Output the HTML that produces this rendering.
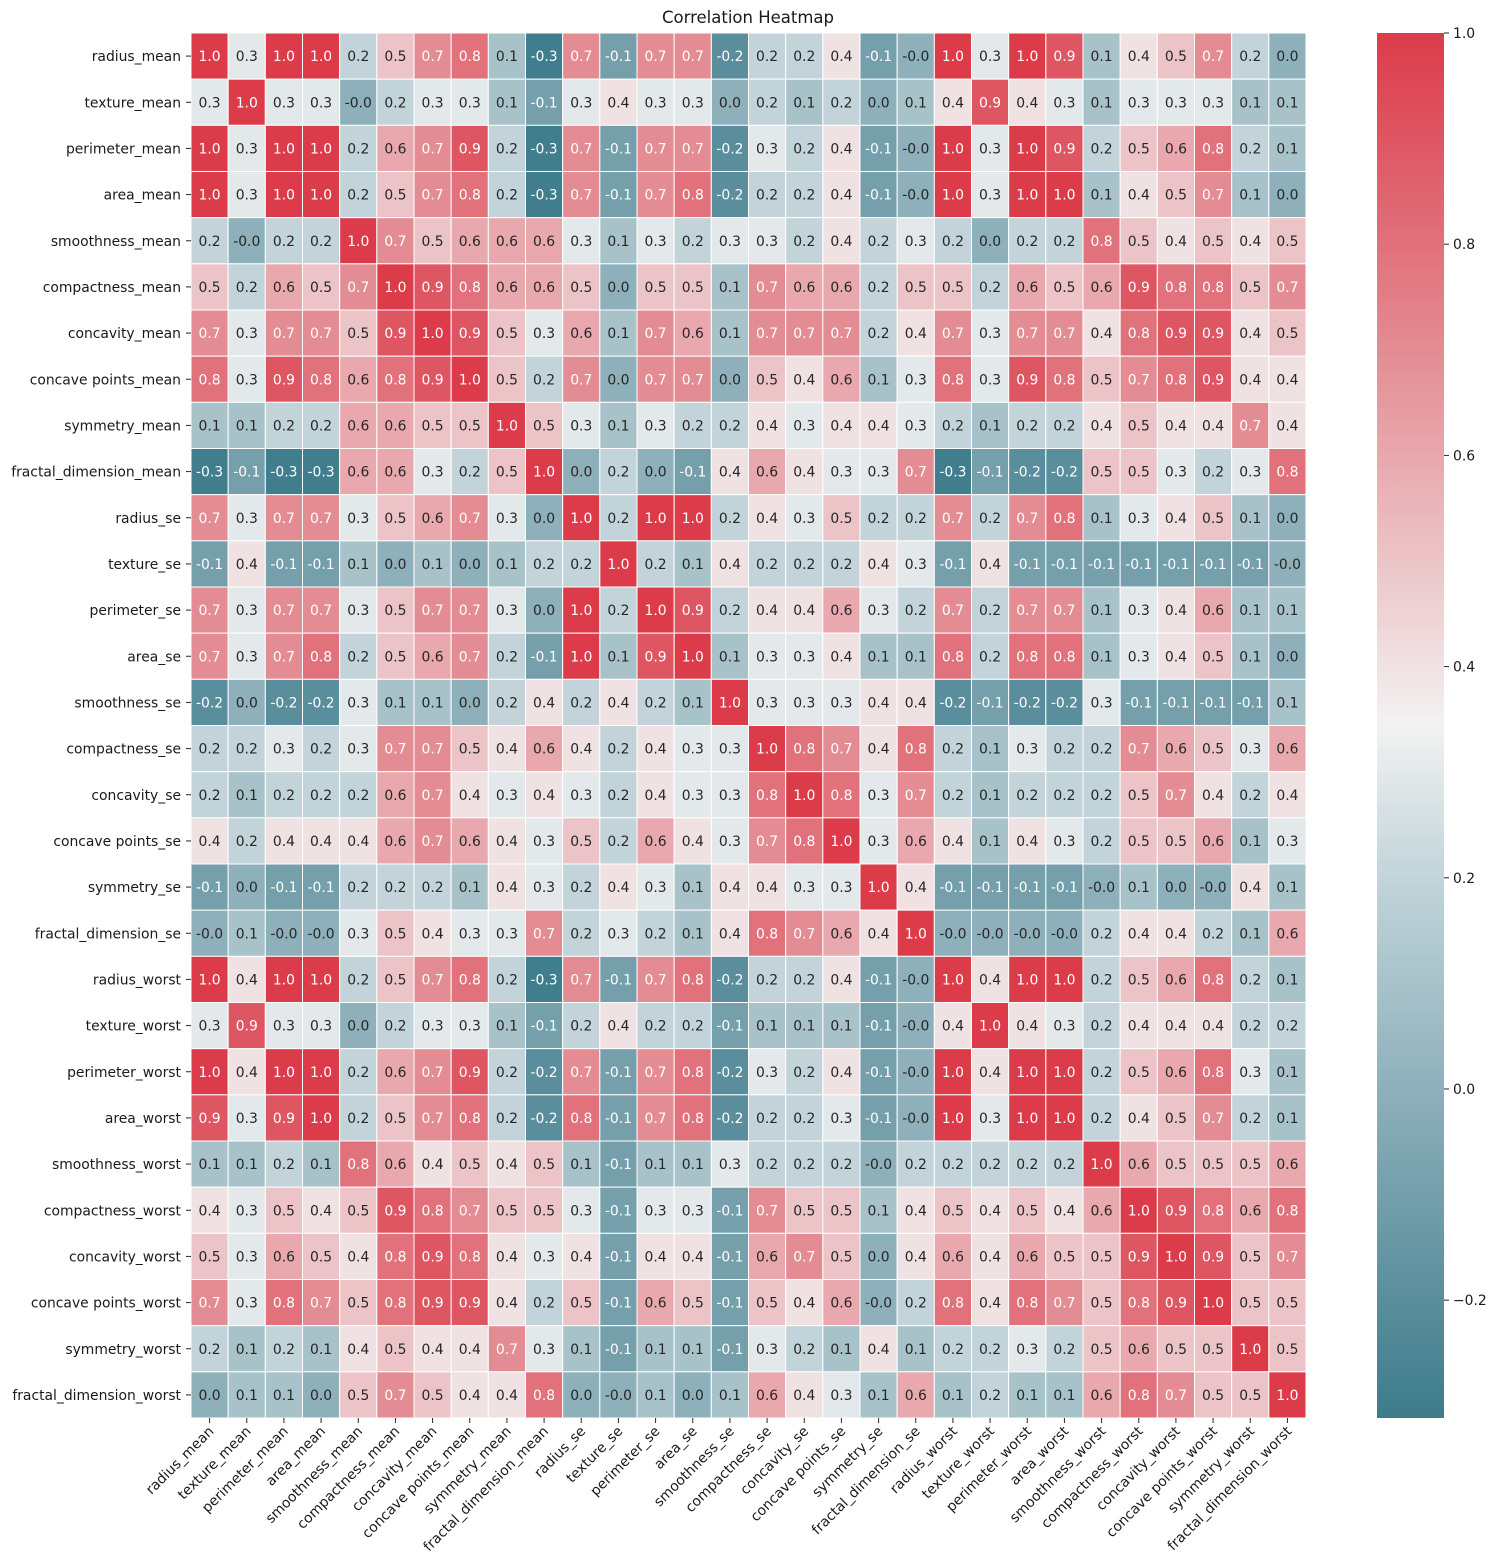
<!DOCTYPE html>
<html><head><meta charset="utf-8">
<style>
html,body{margin:0;padding:0;background:#fff;}
svg{display:block;font-family:"DejaVu Sans","Liberation Sans",sans-serif;}
</style></head>
<body>
<svg id="chart" width="1498" height="1568" viewBox="0 0 1498 1568" xmlns="http://www.w3.org/2000/svg">
<text x="748" y="23" text-anchor="middle" font-size="16.5" fill="#1a1a1a">Correlation Heatmap</text>
<defs>
<linearGradient id="cbgrad" x1="0" y1="1" x2="0" y2="0"></linearGradient>
</defs>
<g id="cells"></g>
<g id="ylabels"></g>
<g id="xlabels"></g>
<g id="colorbar"></g>
</svg>
<script>
const features = ["radius_mean","texture_mean","perimeter_mean","area_mean","smoothness_mean","compactness_mean","concavity_mean","concave points_mean","symmetry_mean","fractal_dimension_mean","radius_se","texture_se","perimeter_se","area_se","smoothness_se","compactness_se","concavity_se","concave points_se","symmetry_se","fractal_dimension_se","radius_worst","texture_worst","perimeter_worst","area_worst","smoothness_worst","compactness_worst","concavity_worst","concave points_worst","symmetry_worst","fractal_dimension_worst"];
const corrRows = [
"1.0 0.3 1.0 1.0 0.2 0.5 0.7 0.8 0.1 -0.3 0.7 -0.1 0.7 0.7 -0.2 0.2 0.2 0.4 -0.1 -0.0 1.0 0.3 1.0 0.9 0.1 0.4 0.5 0.7 0.2 0.0",
"0.3 1.0 0.3 0.3 -0.0 0.2 0.3 0.3 0.1 -0.1 0.3 0.4 0.3 0.3 0.0 0.2 0.1 0.2 0.0 0.1 0.4 0.9 0.4 0.3 0.1 0.3 0.3 0.3 0.1 0.1",
"1.0 0.3 1.0 1.0 0.2 0.6 0.7 0.9 0.2 -0.3 0.7 -0.1 0.7 0.7 -0.2 0.3 0.2 0.4 -0.1 -0.0 1.0 0.3 1.0 0.9 0.2 0.5 0.6 0.8 0.2 0.1",
"1.0 0.3 1.0 1.0 0.2 0.5 0.7 0.8 0.2 -0.3 0.7 -0.1 0.7 0.8 -0.2 0.2 0.2 0.4 -0.1 -0.0 1.0 0.3 1.0 1.0 0.1 0.4 0.5 0.7 0.1 0.0",
"0.2 -0.0 0.2 0.2 1.0 0.7 0.5 0.6 0.6 0.6 0.3 0.1 0.3 0.2 0.3 0.3 0.2 0.4 0.2 0.3 0.2 0.0 0.2 0.2 0.8 0.5 0.4 0.5 0.4 0.5",
"0.5 0.2 0.6 0.5 0.7 1.0 0.9 0.8 0.6 0.6 0.5 0.0 0.5 0.5 0.1 0.7 0.6 0.6 0.2 0.5 0.5 0.2 0.6 0.5 0.6 0.9 0.8 0.8 0.5 0.7",
"0.7 0.3 0.7 0.7 0.5 0.9 1.0 0.9 0.5 0.3 0.6 0.1 0.7 0.6 0.1 0.7 0.7 0.7 0.2 0.4 0.7 0.3 0.7 0.7 0.4 0.8 0.9 0.9 0.4 0.5",
"0.8 0.3 0.9 0.8 0.6 0.8 0.9 1.0 0.5 0.2 0.7 0.0 0.7 0.7 0.0 0.5 0.4 0.6 0.1 0.3 0.8 0.3 0.9 0.8 0.5 0.7 0.8 0.9 0.4 0.4",
"0.1 0.1 0.2 0.2 0.6 0.6 0.5 0.5 1.0 0.5 0.3 0.1 0.3 0.2 0.2 0.4 0.3 0.4 0.4 0.3 0.2 0.1 0.2 0.2 0.4 0.5 0.4 0.4 0.7 0.4",
"-0.3 -0.1 -0.3 -0.3 0.6 0.6 0.3 0.2 0.5 1.0 0.0 0.2 0.0 -0.1 0.4 0.6 0.4 0.3 0.3 0.7 -0.3 -0.1 -0.2 -0.2 0.5 0.5 0.3 0.2 0.3 0.8",
"0.7 0.3 0.7 0.7 0.3 0.5 0.6 0.7 0.3 0.0 1.0 0.2 1.0 1.0 0.2 0.4 0.3 0.5 0.2 0.2 0.7 0.2 0.7 0.8 0.1 0.3 0.4 0.5 0.1 0.0",
"-0.1 0.4 -0.1 -0.1 0.1 0.0 0.1 0.0 0.1 0.2 0.2 1.0 0.2 0.1 0.4 0.2 0.2 0.2 0.4 0.3 -0.1 0.4 -0.1 -0.1 -0.1 -0.1 -0.1 -0.1 -0.1 -0.0",
"0.7 0.3 0.7 0.7 0.3 0.5 0.7 0.7 0.3 0.0 1.0 0.2 1.0 0.9 0.2 0.4 0.4 0.6 0.3 0.2 0.7 0.2 0.7 0.7 0.1 0.3 0.4 0.6 0.1 0.1",
"0.7 0.3 0.7 0.8 0.2 0.5 0.6 0.7 0.2 -0.1 1.0 0.1 0.9 1.0 0.1 0.3 0.3 0.4 0.1 0.1 0.8 0.2 0.8 0.8 0.1 0.3 0.4 0.5 0.1 0.0",
"-0.2 0.0 -0.2 -0.2 0.3 0.1 0.1 0.0 0.2 0.4 0.2 0.4 0.2 0.1 1.0 0.3 0.3 0.3 0.4 0.4 -0.2 -0.1 -0.2 -0.2 0.3 -0.1 -0.1 -0.1 -0.1 0.1",
"0.2 0.2 0.3 0.2 0.3 0.7 0.7 0.5 0.4 0.6 0.4 0.2 0.4 0.3 0.3 1.0 0.8 0.7 0.4 0.8 0.2 0.1 0.3 0.2 0.2 0.7 0.6 0.5 0.3 0.6",
"0.2 0.1 0.2 0.2 0.2 0.6 0.7 0.4 0.3 0.4 0.3 0.2 0.4 0.3 0.3 0.8 1.0 0.8 0.3 0.7 0.2 0.1 0.2 0.2 0.2 0.5 0.7 0.4 0.2 0.4",
"0.4 0.2 0.4 0.4 0.4 0.6 0.7 0.6 0.4 0.3 0.5 0.2 0.6 0.4 0.3 0.7 0.8 1.0 0.3 0.6 0.4 0.1 0.4 0.3 0.2 0.5 0.5 0.6 0.1 0.3",
"-0.1 0.0 -0.1 -0.1 0.2 0.2 0.2 0.1 0.4 0.3 0.2 0.4 0.3 0.1 0.4 0.4 0.3 0.3 1.0 0.4 -0.1 -0.1 -0.1 -0.1 -0.0 0.1 0.0 -0.0 0.4 0.1",
"-0.0 0.1 -0.0 -0.0 0.3 0.5 0.4 0.3 0.3 0.7 0.2 0.3 0.2 0.1 0.4 0.8 0.7 0.6 0.4 1.0 -0.0 -0.0 -0.0 -0.0 0.2 0.4 0.4 0.2 0.1 0.6",
"1.0 0.4 1.0 1.0 0.2 0.5 0.7 0.8 0.2 -0.3 0.7 -0.1 0.7 0.8 -0.2 0.2 0.2 0.4 -0.1 -0.0 1.0 0.4 1.0 1.0 0.2 0.5 0.6 0.8 0.2 0.1",
"0.3 0.9 0.3 0.3 0.0 0.2 0.3 0.3 0.1 -0.1 0.2 0.4 0.2 0.2 -0.1 0.1 0.1 0.1 -0.1 -0.0 0.4 1.0 0.4 0.3 0.2 0.4 0.4 0.4 0.2 0.2",
"1.0 0.4 1.0 1.0 0.2 0.6 0.7 0.9 0.2 -0.2 0.7 -0.1 0.7 0.8 -0.2 0.3 0.2 0.4 -0.1 -0.0 1.0 0.4 1.0 1.0 0.2 0.5 0.6 0.8 0.3 0.1",
"0.9 0.3 0.9 1.0 0.2 0.5 0.7 0.8 0.2 -0.2 0.8 -0.1 0.7 0.8 -0.2 0.2 0.2 0.3 -0.1 -0.0 1.0 0.3 1.0 1.0 0.2 0.4 0.5 0.7 0.2 0.1",
"0.1 0.1 0.2 0.1 0.8 0.6 0.4 0.5 0.4 0.5 0.1 -0.1 0.1 0.1 0.3 0.2 0.2 0.2 -0.0 0.2 0.2 0.2 0.2 0.2 1.0 0.6 0.5 0.5 0.5 0.6",
"0.4 0.3 0.5 0.4 0.5 0.9 0.8 0.7 0.5 0.5 0.3 -0.1 0.3 0.3 -0.1 0.7 0.5 0.5 0.1 0.4 0.5 0.4 0.5 0.4 0.6 1.0 0.9 0.8 0.6 0.8",
"0.5 0.3 0.6 0.5 0.4 0.8 0.9 0.8 0.4 0.3 0.4 -0.1 0.4 0.4 -0.1 0.6 0.7 0.5 0.0 0.4 0.6 0.4 0.6 0.5 0.5 0.9 1.0 0.9 0.5 0.7",
"0.7 0.3 0.8 0.7 0.5 0.8 0.9 0.9 0.4 0.2 0.5 -0.1 0.6 0.5 -0.1 0.5 0.4 0.6 -0.0 0.2 0.8 0.4 0.8 0.7 0.5 0.8 0.9 1.0 0.5 0.5",
"0.2 0.1 0.2 0.1 0.4 0.5 0.4 0.4 0.7 0.3 0.1 -0.1 0.1 0.1 -0.1 0.3 0.2 0.1 0.4 0.1 0.2 0.2 0.3 0.2 0.5 0.6 0.5 0.5 1.0 0.5",
"0.0 0.1 0.1 0.0 0.5 0.7 0.5 0.4 0.4 0.8 0.0 -0.0 0.1 0.0 0.1 0.6 0.4 0.3 0.1 0.6 0.1 0.2 0.1 0.1 0.6 0.8 0.7 0.5 0.5 1.0"
];
const cbTicks = [1.0, 0.8, 0.6, 0.4, 0.2, 0.0, -0.2];
const vMin = -0.3116, vMax = 1.0;

const NS = "http://www.w3.org/2000/svg";
const X0 = 191, X1 = 1306, Y0 = 33, Y1 = 1418;
const n = features.length;
const cw = (X1 - X0) / n, ch = (Y1 - Y0) / n;
const xPos = i => X0 + i * cw;
const yPos = i => Y0 + i * ch;
const CB = {x: 1377, w: 67, y0: Y0, y1: Y1};
const cbY = v => CB.y1 - (v - vMin) / (vMax - vMin) * (CB.y1 - CB.y0);

// colormap stops (style, keyed by normalized position)
const stops = [
  [0.00, [61,123,139]],
  [0.237, [142,176,186]],
  [0.39, [194,212,218]],
  [0.50, [242,242,242]],
  [0.62, [236,196,199]],
  [0.77, [228,140,148]],
  [1.00, [220,59,74]]
];
function color(v){
  let t = (v - vMin) / (vMax - vMin);
  t = Math.max(0, Math.min(1, t));
  for (let k = 1; k < stops.length; k++){
    if (t <= stops[k][0]){
      const [a, ca] = stops[k-1], [b, cb] = stops[k];
      const f = (t - a) / (b - a);
      const c = ca.map((x, j) => Math.round(x + (cb[j] - x) * f));
      return `rgb(${c[0]},${c[1]},${c[2]})`;
    }
  }
  return "rgb(220,59,74)";
}
function el(tag, attrs, parent){
  const e = document.createElementNS(NS, tag);
  for (const k in attrs) e.setAttribute(k, attrs[k]);
  parent.appendChild(e);
  return e;
}

const cellsG = document.getElementById("cells");
corrRows.forEach((row, r) => {
  row.split(" ").forEach((s, c) => {
    const v = parseFloat(s);
    const rect = el("rect", {x: xPos(c), y: yPos(r), width: cw, height: ch, fill: color(v), stroke: "#fff", "stroke-width": 1}, cellsG);
    
    
    const white = (v < -0.05 || v > 0.65);
    const t = el("text", {x: xPos(c) + cw/2, y: yPos(r) + ch/2 + 5, "text-anchor": "middle", "font-size": 13.9, fill: white ? "#ffffff" : "#262626"}, cellsG);
    
    
    t.textContent = s;
  });
});

const yG = document.getElementById("ylabels");
const xG = document.getElementById("xlabels");
features.forEach((f, i) => {
  const yc = yPos(i) + ch/2;
  el("line", {x1: X0 - 5, x2: X0, y1: yc, y2: yc, stroke: "#262626", "stroke-width": 1}, yG);
  const t = el("text", {x: X0 - 10, y: yc + 5, "text-anchor": "end", "font-size": 13.9, fill: "#1a1a1a"}, yG);
  
  
  t.textContent = f;

  const xc = xPos(i) + cw/2;
  el("line", {x1: xc, x2: xc, y1: Y1, y2: Y1 + 5, stroke: "#262626", "stroke-width": 1}, xG);
  const tx = el("text", {x: 0, y: 0, "text-anchor": "end", "font-size": 13.9, fill: "#1a1a1a", transform: `translate(${xc + 5},${Y1 + 14}) rotate(-45)`}, xG);
  
  
  tx.textContent = f;
});

// colorbar
const grad = document.getElementById("cbgrad");
for (let k = 0; k <= 40; k++){
  const t = k / 40;
  el("stop", {offset: t, "stop-color": color(vMin + t * (vMax - vMin))}, grad);
}
const cbG = document.getElementById("colorbar");
const cbRect = el("rect", {x: CB.x, y: CB.y0, width: CB.w, height: CB.y1 - CB.y0, fill: "url(#cbgrad)"}, cbG);


cbTicks.forEach(v => {
  const y = cbY(v);
  el("line", {x1: CB.x + CB.w, x2: CB.x + CB.w + 5, y1: y, y2: y, stroke: "#262626", "stroke-width": 1}, cbG);
  const t = el("text", {x: CB.x + CB.w + 9, y: y + 5, "font-size": 13.9, fill: "#1a1a1a"}, cbG);
  
  
  t.textContent = v < 0 ? "\u2212" + Math.abs(v).toFixed(1) : v.toFixed(1);
});
</script>
</body></html>
